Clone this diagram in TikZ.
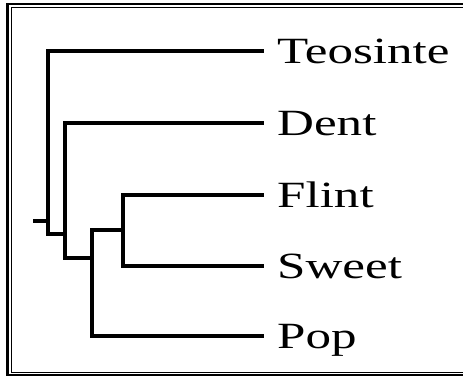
\documentclass[tikz,border=0pt]{standalone}
\usepackage{fontspec}
\setmainfont{Liberation Serif}
\usepackage{graphicx}
\begin{document}
\begin{tikzpicture}[x=1pt,y=1pt,
  branch/.style={line width=4.2pt, line cap=rect, line join=miter},
  leaf/.style={anchor=base west, inner sep=0pt, font=\fontsize{37}{40}\selectfont}]
\useasboundingbox (0,0) rectangle (463,376);
\clip (0,0) rectangle (463,376);
% frame
\draw[line width=2.6pt] (7.5,1) rectangle (480,372);
\draw[line width=1pt] (11.5,4) rectangle (476,368.5);
% internal nodes (pixel y converted: Y = 376 - y)
\coordinate (root) at (35,155);
\coordinate (a) at (48,142);
\coordinate (b) at (65,118);
\coordinate (c) at (92,146);
\coordinate (d) at (123,146);
% leaf ends
\coordinate (eT) at (262,325);
\coordinate (eD) at (262,253);
\coordinate (eF) at (262,181);
\coordinate (eS) at (262,110);
\coordinate (eP) at (262,40);
\node[leaf] (T) at (277,313) {\scalebox{1.38}[1]{Teosinte}};
\node[leaf] (D) at (277,241) {\scalebox{1.38}[1]{Dent}};
\node[leaf] (F) at (277,169) {\scalebox{1.38}[1]{Flint}};
\node[leaf] (S) at (277,98) {\scalebox{1.38}[1]{Sweet}};
\node[leaf] (P) at (277,28) {\scalebox{1.38}[1]{Pop}};
% tree
\draw[branch] (root) -- (root -| a);
\draw[branch] (a) -- (a -| b) (a) |- (eT);
\draw[branch] (b) -- (b -| c) (b) |- (eD);
\draw[branch] (c |- b) |- (eP);
\draw[branch] (c) -- (d);
\draw[branch] (c |- b) -- (c);
\draw[branch] (d |- eS) |- (eF);
\draw[branch] (d |- eS) -- (eS);
\end{tikzpicture}
\end{document}
